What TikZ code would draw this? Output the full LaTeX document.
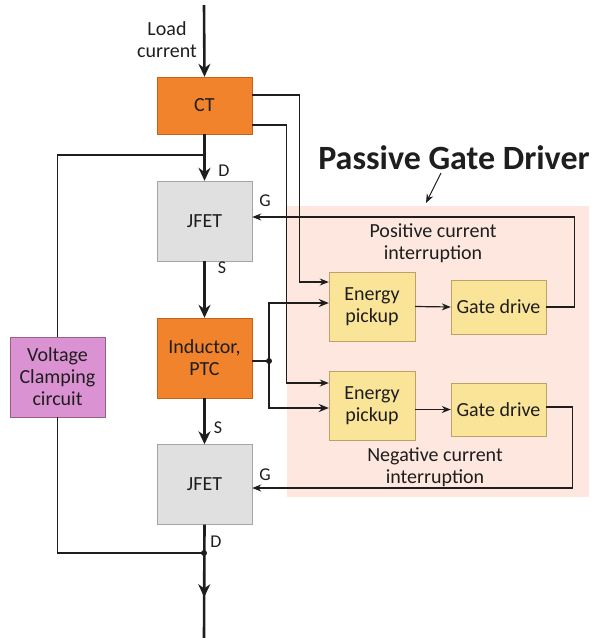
\documentclass[tikz,border=0pt]{standalone}
\usepackage{fontspec}
\setmainfont{Carlito}
\usetikzlibrary{positioning,arrows.meta,decorations.markings}
\definecolor{ctorange}{RGB}{241,131,45}
\definecolor{ctedge}{RGB}{196,98,30}
\definecolor{fetgray}{RGB}{224,224,224}
\definecolor{fetedge}{RGB}{165,165,165}
\definecolor{pickyellow}{RGB}{250,228,152}
\definecolor{pickedge}{RGB}{188,162,104}
\definecolor{clampviolet}{RGB}{218,146,210}
\definecolor{clampedge}{RGB}{150,95,140}
\definecolor{gdbg}{RGB}{253,231,222}
\definecolor{ink}{RGB}{30,30,30}
\tikzset{
  blk/.style={inner sep=0pt,align=center,text=ink,font=\fontsize{20}{22}\selectfont},
  orblk/.style={blk,fill=ctorange,draw=ctedge,minimum width=95pt},
  fetblk/.style={blk,fill=fetgray,draw=fetedge,minimum width=95pt,minimum height=80pt},
  pkblk/.style={blk,fill=pickyellow,draw=pickedge},
  clblk/.style={blk,fill=clampviolet,draw=clampedge,minimum width=95pt,minimum height=80pt},
  bus/.style={line width=2.6pt,ink,-{Stealth[length=13pt,width=12pt]}},
  busmid/.style={line width=2.6pt,ink,postaction={decorate},decoration={markings,mark=at position 0.64 with {\arrow{Stealth[length=13pt,width=12pt]}}}},
  wire/.style={line width=1.5pt,ink},
  sig/.style={line width=1.2pt,ink,-{Stealth[length=9pt,width=7pt]}},
  sigb/.style={line width=1.7pt,ink,-{Stealth[length=10pt,width=8pt]}},
  pin/.style={text=ink,font=\fontsize{18}{18}\selectfont},
  txt/.style={text=ink,align=center,font=\fontsize{20}{22}\selectfont}
}
\begin{document}
\begin{tikzpicture}[x=1pt,y=-1pt]
  \useasboundingbox (0,0) rectangle (596,638);
  \fill[gdbg] (287,206) rectangle (589,497);
  % main column
  \node[orblk,minimum height=57pt] (ct) at (204.5,105.5) {CT};
  \node[fetblk] (jfetA) at (204.5,221) {JFET};
  \node[orblk,minimum height=80pt] (ind) at (204.5,358) {Inductor,\\PTC};
  \node[fetblk] (jfetB) at (204.5,484.5) {JFET};
  \node[clblk] (clamp) at (57.5,377) {Voltage\\Clamping\\circuit};
  % passive gate driver
  \node[pkblk,minimum width=86pt,minimum height=69pt] (epA) at (372,306.5) {Energy\\pickup};
  \node[pkblk,minimum width=86pt,minimum height=69pt] (epB) at (372,405.5) {Energy\\pickup};
  \node[pkblk,minimum width=95pt,minimum height=54pt] (gdA) at (498.5,307) {Gate drive};
  \node[pkblk,minimum width=95pt,minimum height=53pt] (gdB) at (498.5,409.5) {Gate drive};
  \coordinate (top) at (204,5);
  \coordinate (bot) at (204,638);
  \coordinate (tapA) at (204,155);
  \coordinate (tapB) at (204,553);
  \coordinate (jn) at (269,361);
  % load current path
  \draw[bus] (top) -- (ct.north);
  \draw[bus] (ct.south) -- (jfetA.north);
  \draw[bus] (jfetA.south) -- (ind.north);
  \draw[bus] (ind.south) -- (jfetB.north);
  \draw[busmid] (jfetB.south) -- (bot);
  \fill[ink] (tapB) circle (3pt);
  \draw[wire] (tapA) -| (clamp.north);
  \draw[wire] (clamp.south) |- (tapB);
  % pickup feeds
  \draw[sig] ([yshift=10.5pt]ct.east) -- ++(47,0) |- ([yshift=24.5pt]epA.west);
  \draw[sig] ([yshift=-19.5pt]ct.east) -- ++(34,0) |- ([yshift=22.5pt]epB.west);
  \draw[wire] ([yshift=-3pt]ind.east) -- (jn);
  \fill[ink] (jn) circle (3pt);
  \draw[sigb] (jn) |- ([yshift=3.5pt]epA.west);
  \draw[sigb] (jn) |- ([yshift=-2.5pt]epB.west);
  \draw[sig] (epA.east) -- (gdA.west);
  \draw[sig] (epB.east |- gdB.west) -- (gdB.west);
  % gate feedback
  \draw[sig] (gdA.east) -- ++(28,0) |- ([yshift=4pt]jfetA.east);
  \draw[sig] ([yshift=2.5pt]gdB.east) -- ++(26,0) |- ([yshift=-3.5pt]jfetB.east);
  % labels
  \node[txt] (load) at (167,40) {Load\\current};
  \node[pin] (dA) at (224,171) {D};
  \node[pin] (gA) at (265,201) {G};
  \node[pin] (sA) at (222,268) {S};
  \node[pin] (sB) at (218,428) {S};
  \node[pin] (gB) at (265,475) {G};
  \node[pin] (dB) at (216,542) {D};
  \node[txt] (pos) at (433,243) {Positive current\\interruption};
  \node[txt] (neg) at (435,467) {Negative current\\interruption};
  \node[text=ink,anchor=base,font=\fontsize{34}{34}\selectfont\bfseries] (title) at (454,169) {Passive Gate Driver};
  \coordinate (pgd) at (426,203);
  \draw[line width=1pt,ink,-{Stealth[length=9pt,width=7pt]}] (441,173) -- (pgd);
\end{tikzpicture}
\end{document}
